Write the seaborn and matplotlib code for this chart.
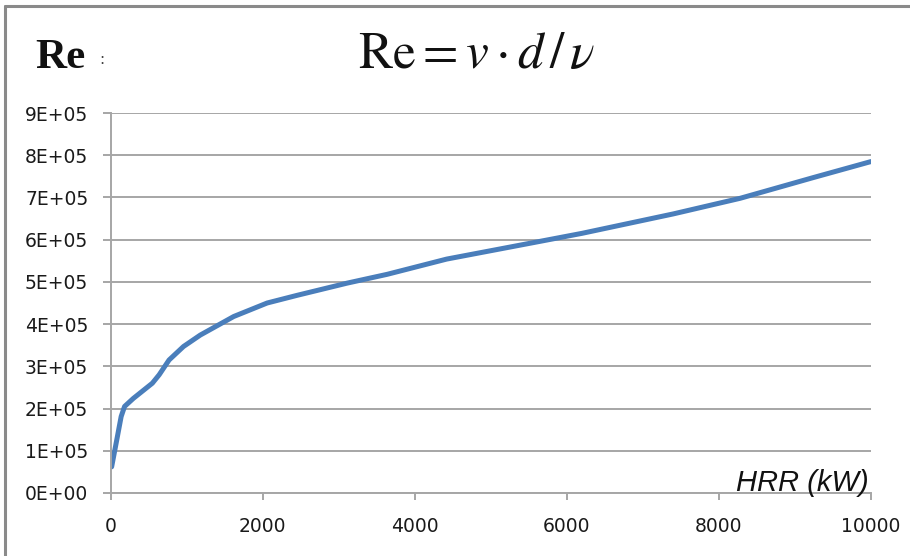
import matplotlib
matplotlib.use("Agg")
import matplotlib.pyplot as plt
import matplotlib.ticker as mticker
import seaborn as sns
import pandas as pd

# Heat release rate (kW) and the resulting Reynolds number
hrr_kw = [15, 90, 140, 185, 300, 550, 640, 770, 960, 1180, 1400, 1620,
          2060, 2450, 3110, 3640, 4420, 5560, 6200, 7400, 8280, 9240, 10000]
reynolds = [62000, 133000, 181000, 205000, 224000, 260000, 280000, 315000,
            347000, 374000, 396000, 418000, 450000, 468000, 497000, 518000,
            554000, 593000, 615000, 661000, 698000, 747000, 785000]

x_ticks = [0, 2000, 4000, 6000, 8000, 10000]
y_ticks = [0, 100000, 200000, 300000, 400000, 500000, 600000, 700000, 800000, 900000]
y_tick_labels = ["0E+00", "1E+05", "2E+05", "3E+05", "4E+05",
                 "5E+05", "6E+05", "7E+05", "8E+05", "9E+05"]

df = pd.DataFrame({"HRR": hrr_kw, "Re": reynolds})

sns.set_style("white")
plt.rcParams["font.family"] = ["DejaVu Sans"]
plt.rcParams["mathtext.fontset"] = "stix"

W, H = 910, 556
fig = plt.figure(figsize=(W / 100, H / 100), dpi=100)

# frame around the chart area (left and top edges visible)
fig.add_artist(plt.Line2D([5 / W, 5 / W], [0, 1 - 6 / H], color="#8a8a8a", lw=2.2,
                          transform=fig.transFigure))
fig.add_artist(plt.Line2D([5 / W, 1], [1 - 6 / H, 1 - 6 / H], color="#8a8a8a", lw=2.2,
                          transform=fig.transFigure))

ax = fig.add_axes([110.5 / W, (H - 493) / H, (871 - 110.5) / W, (493 - 113) / H])

sns.lineplot(data=df, x="HRR", y="Re", ax=ax, color="#4A7EBB", linewidth=3.6,
             solid_capstyle="round", solid_joinstyle="round")

ax.set_xlim(0, 10000)
ax.set_ylim(0, 900000)
ax.xaxis.set_major_locator(mticker.FixedLocator(x_ticks))
ax.yaxis.set_major_locator(mticker.FixedLocator(y_ticks))
ax.set_yticklabels(y_tick_labels)
ax.set_xticklabels([str(v) for v in x_ticks])

grid_col = "#a6a6a6"
ax.grid(axis="y", color=grid_col, linewidth=1.4)
ax.grid(axis="x", visible=False)
for side in ("top", "right"):
    ax.spines[side].set_visible(False)
for side in ("left", "bottom"):
    ax.spines[side].set_color(grid_col)
    ax.spines[side].set_linewidth(1.4)

ax.tick_params(axis="both", which="major", direction="out", color=grid_col,
               width=1.4, labelsize=13.5, labelcolor="#1a1a1a")
ax.tick_params(axis="y", length=6, pad=10, left=True)
ax.tick_params(axis="x", length=5, pad=12, bottom=True)

ax.set_xlabel("")
ax.set_ylabel("")
ax.text(0.997, 0.006, "HRR (kW)", transform=ax.transAxes, ha="right", va="baseline",
        fontsize=21, style="italic", color="#111111",
        family=["Liberation Sans", "DejaVu Sans"])

# title formula
fig.text(35 / W, 1 - 68 / H, "Re", fontsize=31, fontweight="bold",
         family=["Liberation Serif", "DejaVu Serif"], ha="left", va="baseline",
         color="#111111")
fig.text(99 / W, 1 - 64 / H, ":", fontsize=11, ha="left", va="baseline",
         color="#444444")
fig.text(477 / W, 1 - 68 / H, r"$\mathrm{Re} = v\cdot d\,/\,\nu$", fontsize=37,
         ha="center", va="baseline", color="#111111")

fig.savefig("out.png", dpi=100)
